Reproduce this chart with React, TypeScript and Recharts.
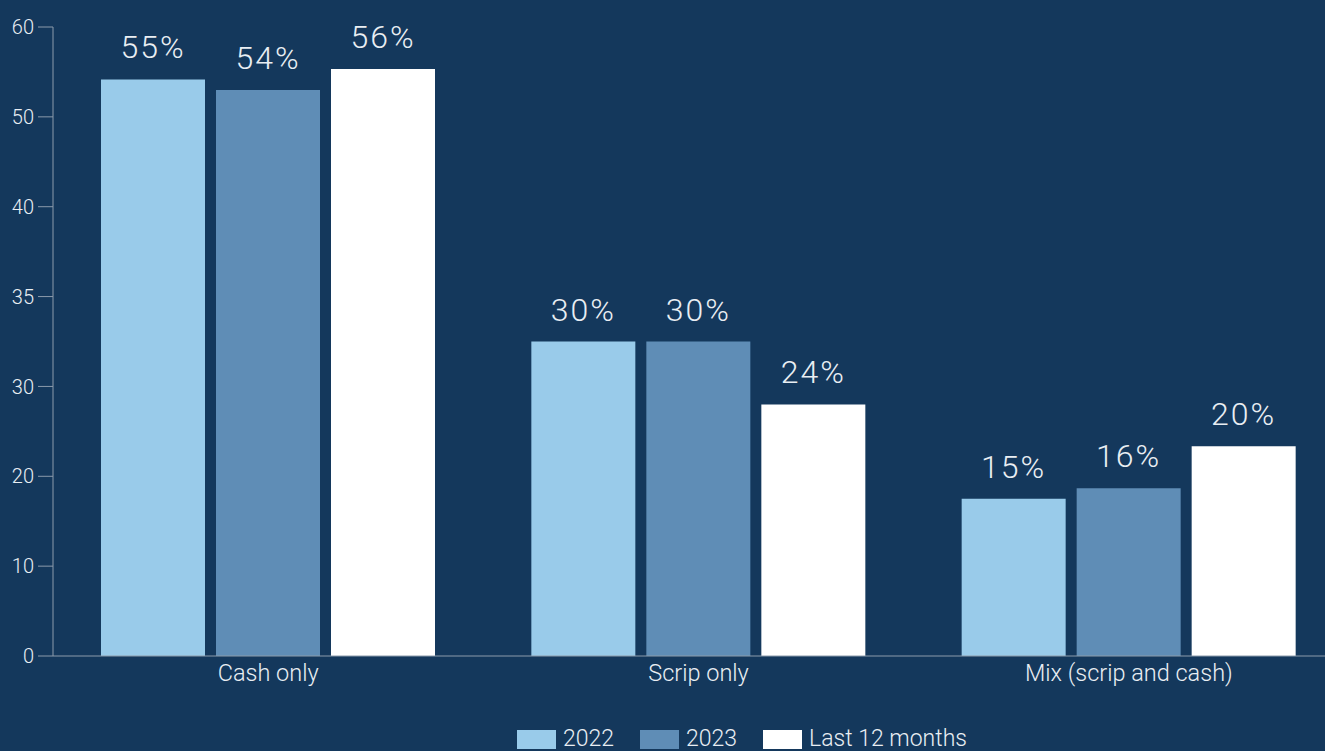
import { BarChart, Bar, XAxis, YAxis, Legend, LabelList } from "recharts";

const categories = ["Cash only", "Scrip only", "Mix (scrip and cash)"];
const values2022 = [55, 30, 15];
const values2023 = [54, 30, 16];
const valuesLast12 = [56, 24, 20];
const seriesNames = ["2022", "2023", "Last 12 months"];
// the printed axis labels are not evenly spaced in value, but sit at even steps of a 0-60 scale
const yTickLabels = ["0", "10", "20", "30", "35", "40", "50", "60"];

const data = categories.map((name, i) => ({
  name,
  y2022: values2022[i],
  y2023: values2023[i],
  last12: valuesLast12[i],
}));

const yMax = 60;
const yTicks = yTickLabels.map((_, i) => (i * yMax) / (yTickLabels.length - 1));

const bg = "#14385c";
const axisColor = "#8c9bab";
const textColor = "#e9eef3";
const font = "Roboto, 'Liberation Sans', sans-serif";
const colors = ["#99cbea", "#5f8db6", "#ffffff"];

function LegendContent() {
  return (
    <div
      style={{
        height: 22,
        display: "flex",
        justifyContent: "center",
        alignItems: "flex-start",
        fontFamily: font,
        fontWeight: 300,
        fontSize: 23,
        color: textColor,
        paddingLeft: 166,
      }}
    >
      {seriesNames.map((n, i) => (
        <div key={n} style={{ display: "flex", alignItems: "center", marginRight: 26, height: 20 }}>
          <div style={{ width: 39, height: 19, background: colors[i], marginRight: 7 }} />
          <span style={{ lineHeight: "20px" }}>{n}</span>
        </div>
      ))}
    </div>
  );
}

const pct = (v: any) => `${v}%`;

export default function App() {
  return (
    <div
      style={{
        position: "absolute",
        left: 0,
        top: 0,
        width: 1325,
        height: 751,
        overflow: "hidden",
        background: bg,
      }}
    >
      <BarChart
        width={1344}
        height={755}
        data={data}
        margin={{ top: 27, right: 0, bottom: 4, left: 0 }}
        barSize={104}
        barGap={11}
      >
        <XAxis
          dataKey="name"
          stroke={axisColor}
          tickLine={false}
          tickSize={0}
          tickMargin={8}
          height={73}
          interval={0}
          tick={{ fill: textColor, fontSize: 23.5, fontFamily: font, fontWeight: 300 }}
        />
        <YAxis
          domain={[0, yMax]}
          ticks={yTicks}
          width={53}
          stroke={axisColor}
          tickSize={15}
          tickMargin={4}
          tickFormatter={(_v: any, i: number) => yTickLabels[i]}
          tick={{ fill: textColor, fontSize: 20, fontFamily: font, fontWeight: 300 }}
        />
        <Legend verticalAlign="bottom" content={<LegendContent />} />
        {["y2022", "y2023", "last12"].map((k, i) => (
          <Bar key={k} dataKey={k} name={seriesNames[i]} fill={colors[i]} isAnimationActive={false}>
            <LabelList
              dataKey={k}
              position="top"
              offset={21}
              formatter={pct}
              fill={textColor}
              style={{ fontSize: 32, fontFamily: font, fontWeight: 300, letterSpacing: 2 }}
            />
          </Bar>
        ))}
      </BarChart>
    </div>
  );
}
